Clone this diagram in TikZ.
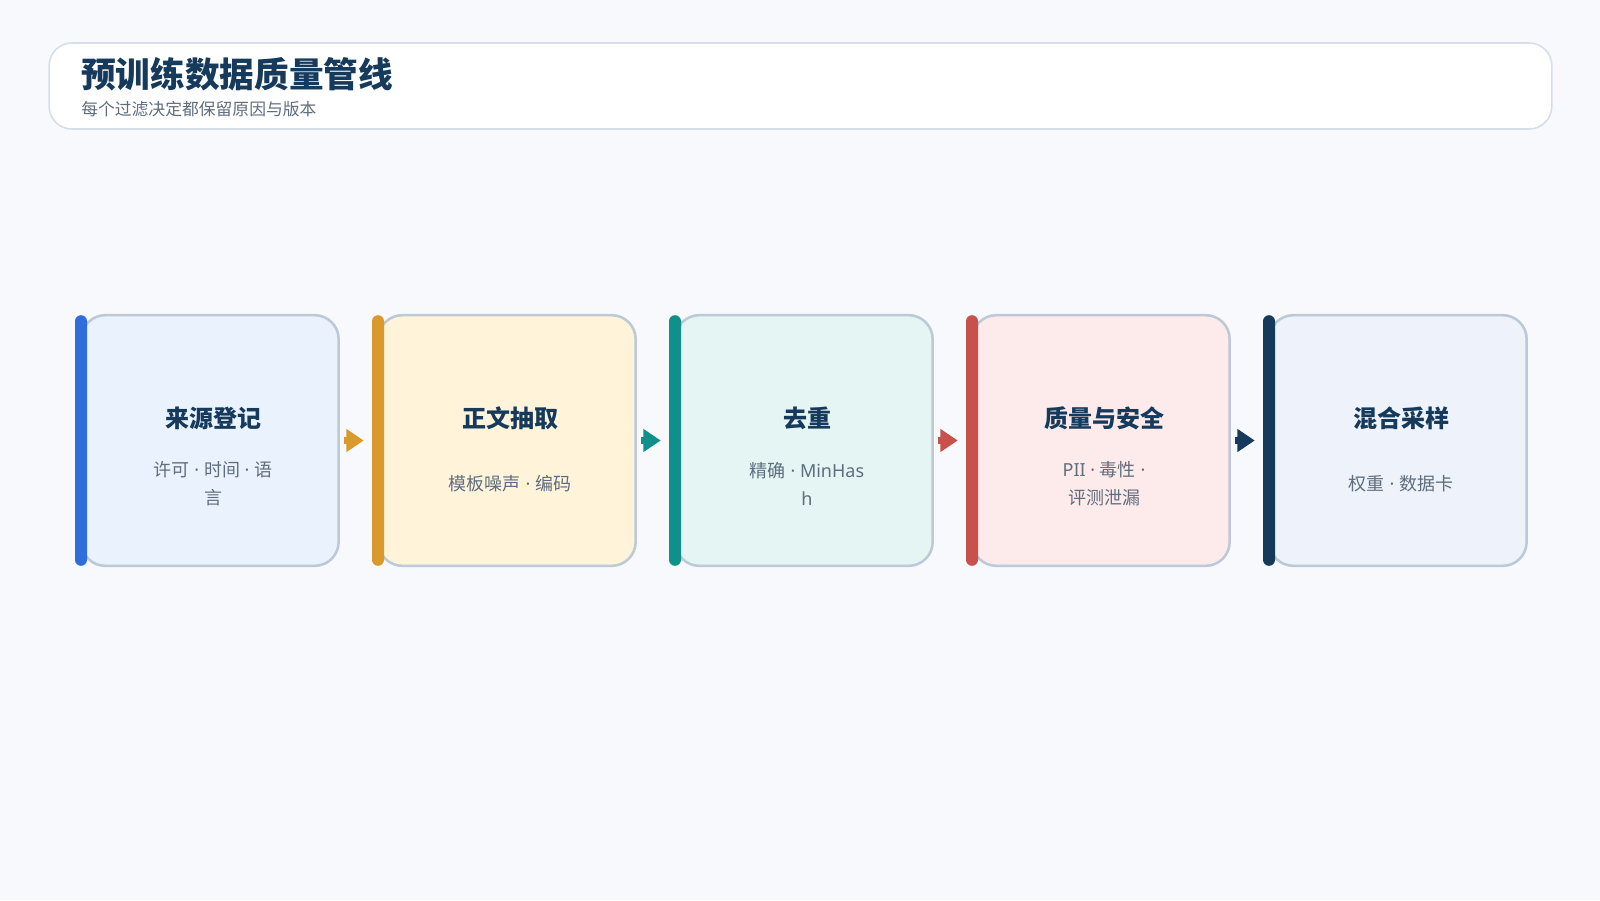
\documentclass[tikz,border=0pt]{standalone}
\usepackage{fontspec}
\setmainfont{Noto Sans CJK SC}
\newfontfamily\latf{Noto Sans}
\newcommand\md{{\latf\ ·\ }}
\usetikzlibrary{arrows.meta,positioning}
\definecolor{bg}{HTML}{F7F9FC}
\definecolor{ink}{HTML}{163A5C}
\definecolor{sub}{HTML}{5F6E7E}
\definecolor{edge}{HTML}{BCC9D7}
\definecolor{hedge}{HTML}{D6DFE9}
\definecolor{bA}{HTML}{2F6DDC}
\definecolor{bB}{HTML}{D9992C}
\definecolor{bC}{HTML}{10908A}
\definecolor{bD}{HTML}{C9514B}
\definecolor{bE}{HTML}{163A5C}
\definecolor{fA}{HTML}{EAF2FE}
\definecolor{fB}{HTML}{FFF3DA}
\definecolor{fC}{HTML}{E4F5F3}
\definecolor{fD}{HTML}{FDEBEB}
\definecolor{fE}{HTML}{EEF2FA}
\tikzset{
  card/.style={draw=edge, line width=1.9pt, rounded corners=18pt, minimum width=193pt, minimum height=188pt, inner sep=0pt},
  sidebar/.style={rounded corners=4.5pt, minimum width=9pt, minimum height=188pt, inner sep=0pt, draw=none},
  ctitle/.style={font=\bfseries\fontsize{18pt}{22pt}\selectfont, text=ink, anchor=center},
  ctext/.style={font=\fontsize{13.5pt}{21pt}\selectfont, text=sub, align=center, anchor=center},
  flow/.style={line width=5.2pt, -{Triangle[length=13pt,width=16.5pt]}},
}
\begin{document}
\begin{tikzpicture}[x=0.75pt,y=-0.75pt]
\path[use as bounding box, fill=bg] (0,0) rectangle (1600,900);
% header
\node[draw=hedge, line width=1.2pt, fill=white, rounded corners=17pt, minimum width=1127pt, minimum height=64.5pt, inner sep=0pt] (hdr) at (800.5,86) {};
\node[font=\bfseries\fontsize{26pt}{30pt}\selectfont, text=ink, anchor=west, inner sep=0pt] (htitle) at (81,74) {预训练数据质量管线};
\node[font=\fontsize{12.6pt}{14pt}\selectfont, text=sub, anchor=west, inner sep=0pt] (hsub) at (81,109) {每个过滤决定都保留原因与版本};
% cards
\foreach \i/\f/\b in {1/fA/bA,2/fB/bB,3/fC/bC,4/fD/bD,5/fE/bE}{
  \node[card, fill=\f] (c\i) at ({210+297*(\i-1)},440.5) {};
  \node[sidebar, fill=\b] (s\i) at ({81+297*(\i-1)},440.5) {};
}
\node[ctitle] (t1) at (213,418) {来源登记};
\node[ctext] (d1) at (213,484) {许可\md 时间\md 语\\言};
\node[ctitle] (t2) at (510,418) {正文抽取};
\node[ctext] (d2) at (510,484) {模板噪声\md 编码};
\node[ctitle] (t3) at (807,418) {去重};
\node[ctext] (d3) at (807,484) {精确\md{\latf MinHas}\\{\latf h}};
\node[ctitle] (t4) at (1104,418) {质量与安全};
\node[ctext] (d4) at (1104,484) {{\latf PII}\md 毒性{\latf\ ·}\\评测泄漏};
\node[ctitle] (t5) at (1401,418) {混合采样};
\node[ctext] (d5) at (1401,484) {权重\md 数据卡};
% arrows
\draw[flow, bB] ([xshift=3pt]c1.east) -- ([xshift=-6pt]s2.west);
\draw[flow, bC] ([xshift=3pt]c2.east) -- ([xshift=-6pt]s3.west);
\draw[flow, bD] ([xshift=3pt]c3.east) -- ([xshift=-6pt]s4.west);
\draw[flow, bE] ([xshift=3pt]c4.east) -- ([xshift=-6pt]s5.west);
\end{tikzpicture}
\end{document}
